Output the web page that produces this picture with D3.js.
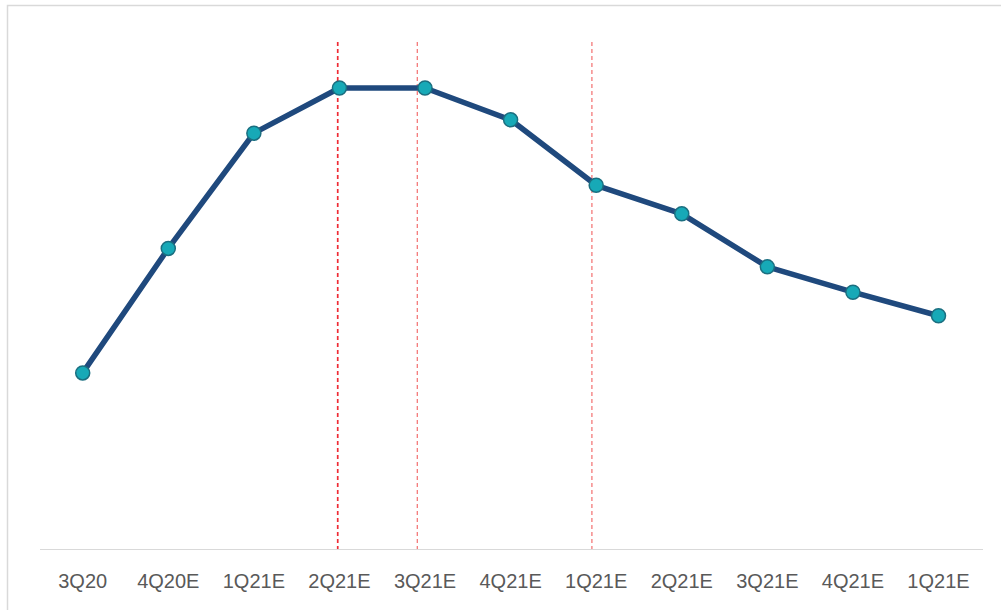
<!DOCTYPE html>
<html>
<head>
<meta charset="utf-8">
<script src="https://cdn.jsdelivr.net/npm/d3@7"></script>
<style>
  body { margin: 0; background: #fff; }
  svg { display: block; font-family: "Liberation Sans", Arial, sans-serif; }
</style>
</head>
<body>
<div id="graph"></div>
<script>
// quarters on the x axis
var quarters = ['3Q20', '4Q20E', '1Q21E', '2Q21E', '3Q21E', '4Q21E', '1Q21E', '2Q21E', '3Q21E', '4Q21E', '1Q21E']
// unlabelled index values
var values = [38.2, 65.2, 90.2, 100, 100, 93.1, 78.9, 72.7, 61.2, 55.7, 50.6]
// red dashed markers, as fractional position along the quarters
var dividers = [2.98, 3.91, 5.95]

var width = 1001, height = 610

var svg = d3.select('#graph').append('svg')
  .attr('width', width)
  .attr('height', height)

// chart frame
svg.append('rect')
  .attr('x', 7.5).attr('y', 5.5)
  .attr('width', 1000).attr('height', 620)
  .attr('fill', 'none')
  .attr('stroke', '#d9d9d9')
  .attr('stroke-width', 1.5)

var x = d3.scaleLinear().domain([0, quarters.length - 1]).range([82.7, 938.5])
var y = d3.scaleLinear().domain([0, 100]).range([549, 88])

// baseline
svg.append('line')
  .attr('x1', 40).attr('x2', 983)
  .attr('y1', y(0) + 0.5).attr('y2', y(0) + 0.5)
  .attr('stroke', '#d9d9d9')
  .attr('stroke-width', 1.2)

svg.selectAll('text.tick')
  .data(quarters)
  .join('text')
  .attr('class', 'tick')
  .attr('x', (d, i) => x(i))
  .attr('y', 588)
  .attr('text-anchor', 'middle')
  .attr('font-size', 20)
  .attr('fill', '#595959')
  .text(d => d)

svg.selectAll('line.divider')
  .data(dividers)
  .join('line')
  .attr('class', 'divider')
  .attr('x1', d => x(d)).attr('x2', d => x(d))
  .attr('y1', 42).attr('y2', y(0))
  .attr('stroke', (d, i) => i ? '#f47a7a' : '#ef2b35')
  .attr('stroke-width', (d, i) => i ? 1.3 : 1.7)
  .attr('stroke-dasharray', '4,3')

var line = d3.line()
  .x((d, i) => x(i))
  .y(d => y(d))

svg.append('path')
  .datum(values)
  .attr('d', line)
  .attr('fill', 'none')
  .attr('stroke', '#1f497d')
  .attr('stroke-width', 5.5)
  .attr('stroke-linejoin', 'round')

svg.selectAll('circle.pt')
  .data(values)
  .join('circle')
  .attr('class', 'pt')
  .attr('cx', (d, i) => x(i))
  .attr('cy', d => y(d))
  .attr('r', 7)
  .attr('fill', '#17a9b7')
  .attr('stroke', '#1b6f80')
  .attr('stroke-width', 1.5)
</script>
</body>
</html>
